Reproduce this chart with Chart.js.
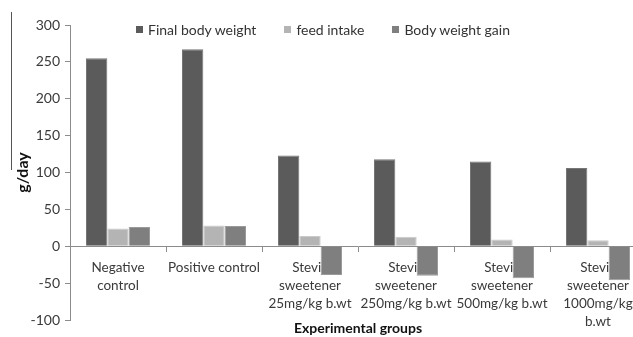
<!DOCTYPE html>
<html>
<head>
<meta charset="utf-8">
<script src="https://cdn.jsdelivr.net/npm/chart.js@4"></script>
<style>
  html, body { margin: 0; padding: 0; background: #fff; overflow: hidden; }
  #wrap { position: relative; width: 650px; height: 337px; }
  #chart { position: absolute; left: 0; top: 0; }
  #legend { position: absolute; left: 136px; top: 21px; display: flex; gap: 28px;
            font: 14px Lato, sans-serif; color: #333; }
  #legend span.item { display: flex; align-items: center; white-space: nowrap; }
  #legend span.box { width: 7px; height: 7px; margin-right: 5px; display: inline-block; }
  #edge { position: absolute; left: 11px; top: 12px; width: 1px; height: 158px; background: #555; }
</style>
</head>
<body>
<div id="wrap">
  <canvas id="chart" width="650" height="337"></canvas>
  <div id="legend"></div>
  <div id="edge"></div>
</div>
<script>
// data
const categories = [
  ['Negative', 'control'],
  'Positive control',
  ['Stevia', 'sweetener', '25mg/kg b.wt'],
  ['Stevia', 'sweetener', '250mg/kg b.wt'],
  ['Stevia', 'sweetener', '500mg/kg b.wt'],
  ['Stevia', 'sweetener', '1000mg/kg', 'b.wt']
];
const finalBodyWeight = [255, 267, 123, 118, 115, 106];
const feedIntake = [24, 28, 14, 13, 9, 8];
const bodyWeightGain = [26, 27.5, -39, -40, -43.5, -46];
const yMin = -100, yMax = 300, yStep = 50;

const textColor = '#3a3a3a';
const axisColor = '#8c8c8c';
const font = { family: 'Lato, sans-serif', size: 14 };

document.addEventListener('DOMContentLoaded', initializeChart);

function initializeChart() {
  const ctx = document.getElementById('chart').getContext('2d');

  const chart = new Chart(ctx, {
    type: 'bar',
    data: {
      labels: categories,
      datasets: [
        { label: 'Final body weight', data: finalBodyWeight, backgroundColor: '#5b5b5b', borderColor: '#767676', borderWidth: 1 },
        { label: 'feed intake', data: feedIntake, backgroundColor: '#b4b4b4', borderColor: '#cacaca', borderWidth: 1 },
        { label: 'Body weight gain', data: bodyWeightGain, backgroundColor: '#7f7f7f', borderColor: '#9a9a9a', borderWidth: 1 }
      ]
    },
    options: {
      responsive: false,
      animation: false,
      devicePixelRatio: 1,
      layout: { padding: { top: 25, right: 4, left: 0, bottom: 0 } },
      datasets: { bar: { barPercentage: 1.0, categoryPercentage: 0.667 } },
      plugins: { legend: { display: false }, tooltip: { enabled: false } },
      scales: {
        y: {
          min: yMin, max: yMax,
          ticks: { stepSize: yStep, color: textColor, font: font, padding: 5 },
          grid: { display: true, drawOnChartArea: false, tickLength: 5, color: axisColor },
          border: { color: axisColor },
          title: { display: true, text: 'g/day', color: '#111', font: { family: 'Lato, sans-serif', size: 16, weight: 'bold' }, padding: { top: 13, bottom: 0 } },
          afterFit: (s) => { s.width = 70; }
        },
        x: {
          position: { y: 0 },
          ticks: { color: textColor, font: { ...font, size: 13.5, lineHeight: 1.35 }, padding: 7, maxRotation: 0, autoSkip: false },
          grid: { display: true, drawOnChartArea: false, tickLength: 5, color: axisColor, offset: true },
          border: { color: axisColor },
          afterFit: (s) => { s.height = 0; }
        },
        x2: {
          type: 'category',
          position: 'bottom',
          grid: { display: false },
          border: { display: false },
          ticks: { display: false },
          title: { display: true, text: 'Experimental groups', color: '#111', font: { family: 'Lato, sans-serif', size: 14, weight: 'bold' }, padding: { top: 0, bottom: 0 } },
          afterFit: (s) => { s.height = 17; }
        }
      }
    }
  });

  // legend built from the chart's own datasets
  const legend = document.getElementById('legend');
  chart.data.datasets.forEach((ds) => {
    const item = document.createElement('span');
    item.className = 'item';
    const box = document.createElement('span');
    box.className = 'box';
    box.style.background = ds.backgroundColor;
    item.appendChild(box);
    item.appendChild(document.createTextNode(ds.label));
    legend.appendChild(item);
  });
}
</script>
</body>
</html>
